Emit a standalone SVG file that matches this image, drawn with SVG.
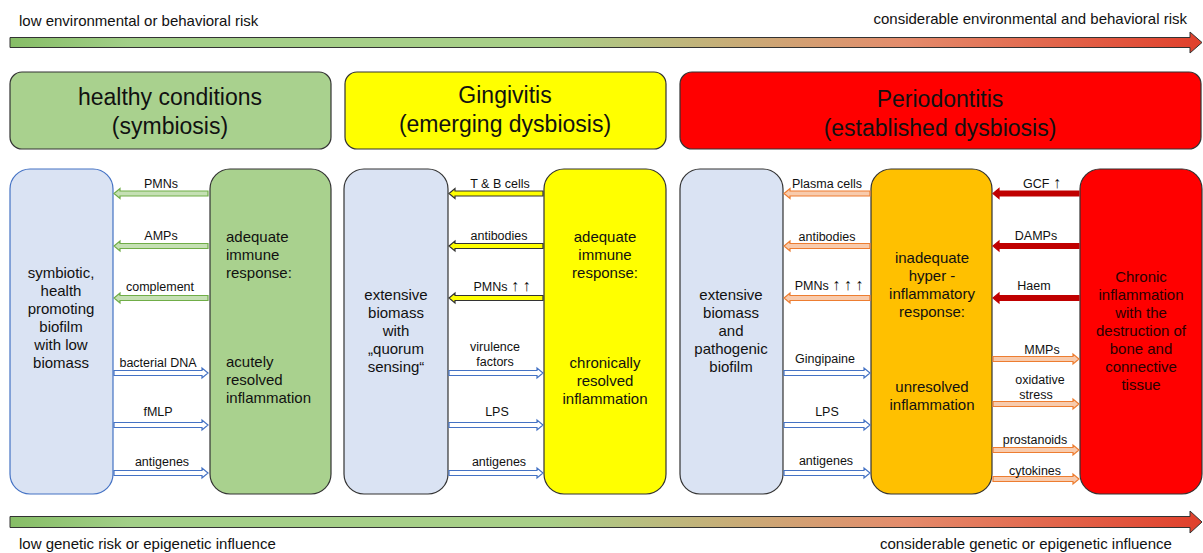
<svg xmlns="http://www.w3.org/2000/svg" xmlns:xlink="http://www.w3.org/1999/xlink" width="1203" height="553" viewBox="0 0 1203 553">
<style>
text{font-family:"Liberation Sans",Arial,sans-serif;fill:#111}
.hd{font-size:23px;text-anchor:middle}
.bd{font-size:15px}
.c{text-anchor:middle}
.lb{font-size:12.5px;text-anchor:middle}
.up{font-size:16px}
.sm{font-size:15px}
.box{stroke:#333;stroke-width:1.2}
.blue{fill:#dae3f3}
.ab{fill:#ffffff;stroke:#4472c4;stroke-width:1.2}
.ag{fill:#c5e0b4;stroke:#70ad47;stroke-width:1.2}
.ay{fill:#ffff00;stroke:#333;stroke-width:1.2}
.ao{fill:#f8cbad;stroke:#ed7d31;stroke-width:1.2}
.ar{fill:#c00000;stroke:#c00000;stroke-width:1.2}
</style>
<defs>
<linearGradient id="grad" x1="0" y1="0" x2="1" y2="0">
<stop offset="0" stop-color="#86bd66"/>
<stop offset="0.1" stop-color="#a2cf88"/>
<stop offset="0.45" stop-color="#a8cf88"/>
<stop offset="0.6" stop-color="#c6ae78"/>
<stop offset="0.75" stop-color="#e48c6c"/>
<stop offset="1" stop-color="#e0402c"/>
</linearGradient>
<path id="r94" d="M0,-2.5 H88 V-5 L94,0 L88,5 V2.5 H0 Z"/>
<path id="r86" d="M0,-2.5 H80 V-5 L86,0 L80,5 V2.5 H0 Z"/>
</defs>

<g id="top-scale">
<text class="sm" x="19" y="26">low environmental or behavioral risk</text>
<text class="sm" x="1187" y="24" text-anchor="end">considerable environmental and behavioral risk</text>
<path d="M10,37.5 H1190 V32 L1202,42.5 L1190,53 V47.5 H10 Z" fill="url(#grad)" stroke="#333" stroke-width="1"/>
</g>

<g id="bottom-scale">
<path d="M10,516.5 H1190 V511 L1202,522 L1190,533 V527.5 H10 Z" fill="url(#grad)" stroke="#333" stroke-width="1"/>
<text class="sm" x="19" y="549">low genetic risk or epigenetic influence</text>
<text class="sm" x="880" y="549">considerable genetic or epigenetic influence</text>
</g>

<g id="header-healthy">
<rect class="box" x="10" y="72" width="321" height="77" rx="12" fill="#a9d18e"/>
<text class="hd" x="170" y="105">healthy conditions</text>
<text class="hd" x="170" y="134">(symbiosis)</text>
</g>
<g id="header-gingivitis">
<rect class="box" x="345" y="72" width="321" height="77" rx="12" fill="#ffff00"/>
<text class="hd" x="505" y="103">Gingivitis</text>
<text class="hd" x="505" y="132">(emerging dysbiosis)</text>
</g>
<g id="header-periodontitis">
<rect class="box" x="680" y="72" width="521" height="77" rx="12" fill="#ff0000"/>
<text class="hd" x="940" y="107">Periodontitis</text>
<text class="hd" x="940" y="136">(established dysbiosis)</text>
</g>

<g id="biofilm-healthy">
<rect x="10" y="169" width="103" height="325" rx="20" class="blue" stroke="#4472c4" stroke-width="1.2"/>
<text class="bd c" x="61"><tspan x="61" y="278">symbiotic,</tspan><tspan x="61" y="296">health</tspan><tspan x="61" y="314">promoting</tspan><tspan x="61" y="332">biofilm</tspan><tspan x="61" y="350">with low</tspan><tspan x="61" y="368">biomass</tspan></text>
</g>
<g id="immune-healthy">
<rect class="box" x="210" y="169" width="121" height="325" rx="20" fill="#a9d18e"/>
<text class="bd" x="226"><tspan x="226" y="242">adequate</tspan><tspan x="226" y="260">immune</tspan><tspan x="226" y="278">response:</tspan><tspan x="226" y="367">acutely</tspan><tspan x="226" y="385">resolved</tspan><tspan x="226" y="403">inflammation</tspan></text>
</g>

<g id="biofilm-gingivitis">
<rect class="box blue" x="344" y="169" width="104" height="325" rx="20"/>
<text class="bd c" x="396"><tspan x="396" y="300">extensive</tspan><tspan x="396" y="318">biomass</tspan><tspan x="396" y="336">with</tspan><tspan x="396" y="354">„quorum</tspan><tspan x="396" y="372">sensing“</tspan></text>
</g>
<g id="immune-gingivitis">
<rect class="box" x="544" y="169" width="122" height="325" rx="20" fill="#ffff00"/>
<text class="bd c" x="605"><tspan x="605" y="242">adequate</tspan><tspan x="605" y="260">immune</tspan><tspan x="605" y="278">response:</tspan><tspan x="605" y="368">chronically</tspan><tspan x="605" y="386">resolved</tspan><tspan x="605" y="404">inflammation</tspan></text>
</g>

<g id="biofilm-periodontitis">
<rect class="box blue" x="680" y="169" width="103" height="325" rx="20"/>
<text class="bd c" x="731"><tspan x="731" y="300">extensive</tspan><tspan x="731" y="318">biomass</tspan><tspan x="731" y="336">and</tspan><tspan x="731" y="354">pathogenic</tspan><tspan x="731" y="372">biofilm</tspan></text>
</g>
<g id="immune-periodontitis">
<rect class="box" x="871" y="169" width="121" height="325" rx="20" fill="#ffc000"/>
<text class="bd c" x="932"><tspan x="932" y="263">inadequate</tspan><tspan x="932" y="281">hyper -</tspan><tspan x="932" y="299">inflammatory</tspan><tspan x="932" y="317">response:</tspan><tspan x="932" y="392">unresolved</tspan><tspan x="932" y="410">inflammation</tspan></text>
</g>
<g id="tissue-destruction">
<rect class="box" x="1080" y="169" width="122" height="325" rx="20" fill="#ff0000"/>
<text class="bd c" x="1141" style="fill:#2a0000"><tspan x="1141" y="282">Chronic</tspan><tspan x="1141" y="300">inflammation</tspan><tspan x="1141" y="318">with the</tspan><tspan x="1141" y="336">destruction of</tspan><tspan x="1141" y="354">bone and</tspan><tspan x="1141" y="372">connective</tspan><tspan x="1141" y="390">tissue</tspan></text>
</g>

<g id="connectors">
<use xlink:href="#r94" class="ag" transform="translate(208,193.5) scale(-1,1)"/>
<use xlink:href="#r94" class="ag" transform="translate(208,246) scale(-1,1)"/>
<use xlink:href="#r94" class="ag" transform="translate(208,298) scale(-1,1)"/>
<use xlink:href="#r94" class="ab" transform="translate(114,373)"/>
<use xlink:href="#r94" class="ab" transform="translate(114,425)"/>
<use xlink:href="#r94" class="ab" transform="translate(114,473)"/>

<use xlink:href="#r94" class="ay" transform="translate(543,193.5) scale(-1,1)"/>
<use xlink:href="#r94" class="ay" transform="translate(543,246) scale(-1,1)"/>
<use xlink:href="#r94" class="ay" transform="translate(543,298) scale(-1,1)"/>
<use xlink:href="#r94" class="ab" transform="translate(449,373)"/>
<use xlink:href="#r94" class="ab" transform="translate(449,425)"/>
<use xlink:href="#r94" class="ab" transform="translate(449,473)"/>

<use xlink:href="#r86" class="ao" transform="translate(870,193.5) scale(-1,1)"/>
<use xlink:href="#r86" class="ao" transform="translate(870,246) scale(-1,1)"/>
<use xlink:href="#r86" class="ao" transform="translate(870,298) scale(-1,1)"/>
<use xlink:href="#r86" class="ab" transform="translate(784,373)"/>
<use xlink:href="#r86" class="ab" transform="translate(784,425)"/>
<use xlink:href="#r86" class="ab" transform="translate(784,473)"/>

<use xlink:href="#r86" class="ar" transform="translate(1079,193.5) scale(-1,1)"/>
<use xlink:href="#r86" class="ar" transform="translate(1079,246) scale(-1,1)"/>
<use xlink:href="#r86" class="ar" transform="translate(1079,298) scale(-1,1)"/>
<use xlink:href="#r86" class="ao" transform="translate(993,359)"/>
<use xlink:href="#r86" class="ao" transform="translate(993,404)"/>
<use xlink:href="#r86" class="ao" transform="translate(993,450)"/>
<use xlink:href="#r86" class="ao" transform="translate(993,479)"/>

<text class="lb" x="161" y="188">PMNs</text>
<text class="lb" x="161" y="240">AMPs</text>
<text class="lb" x="160" y="291">complement</text>
<text class="lb" x="158" y="367">bacterial DNA</text>
<text class="lb" x="158" y="416">fMLP</text>
<text class="lb" x="162" y="466">antigenes</text>

<text class="lb" x="500" y="188">T &amp; B cells</text>
<text class="lb" x="499" y="240">antibodies</text>
<text class="lb" x="502" y="291">PMNs <tspan class="up">↑</tspan> <tspan class="up">↑</tspan></text>
<text class="lb" x="495" y="351">virulence</text>
<text class="lb" x="495" y="366">factors</text>
<text class="lb" x="497" y="416">LPS</text>
<text class="lb" x="499" y="466">antigenes</text>

<text class="lb" x="827" y="188">Plasma cells</text>
<text class="lb" x="827" y="241">antibodies</text>
<text class="lb" x="829" y="290">PMNs <tspan class="up">↑</tspan> <tspan class="up">↑</tspan> <tspan class="up">↑</tspan></text>
<text class="lb" x="825" y="363">Gingipaine</text>
<text class="lb" x="827" y="416">LPS</text>
<text class="lb" x="826" y="465">antigenes</text>

<text class="lb" x="1042" y="188">GCF <tspan class="up">↑</tspan></text>
<text class="lb" x="1036" y="240">DAMPs</text>
<text class="lb" x="1034" y="290">Haem</text>
<text class="lb" x="1042" y="354">MMPs</text>
<text class="lb" x="1040" y="384">oxidative</text>
<text class="lb" x="1036" y="399">stress</text>
<text class="lb" x="1035" y="444">prostanoids</text>
<text class="lb" x="1035" y="475">cytokines</text>
</g>
</svg>
